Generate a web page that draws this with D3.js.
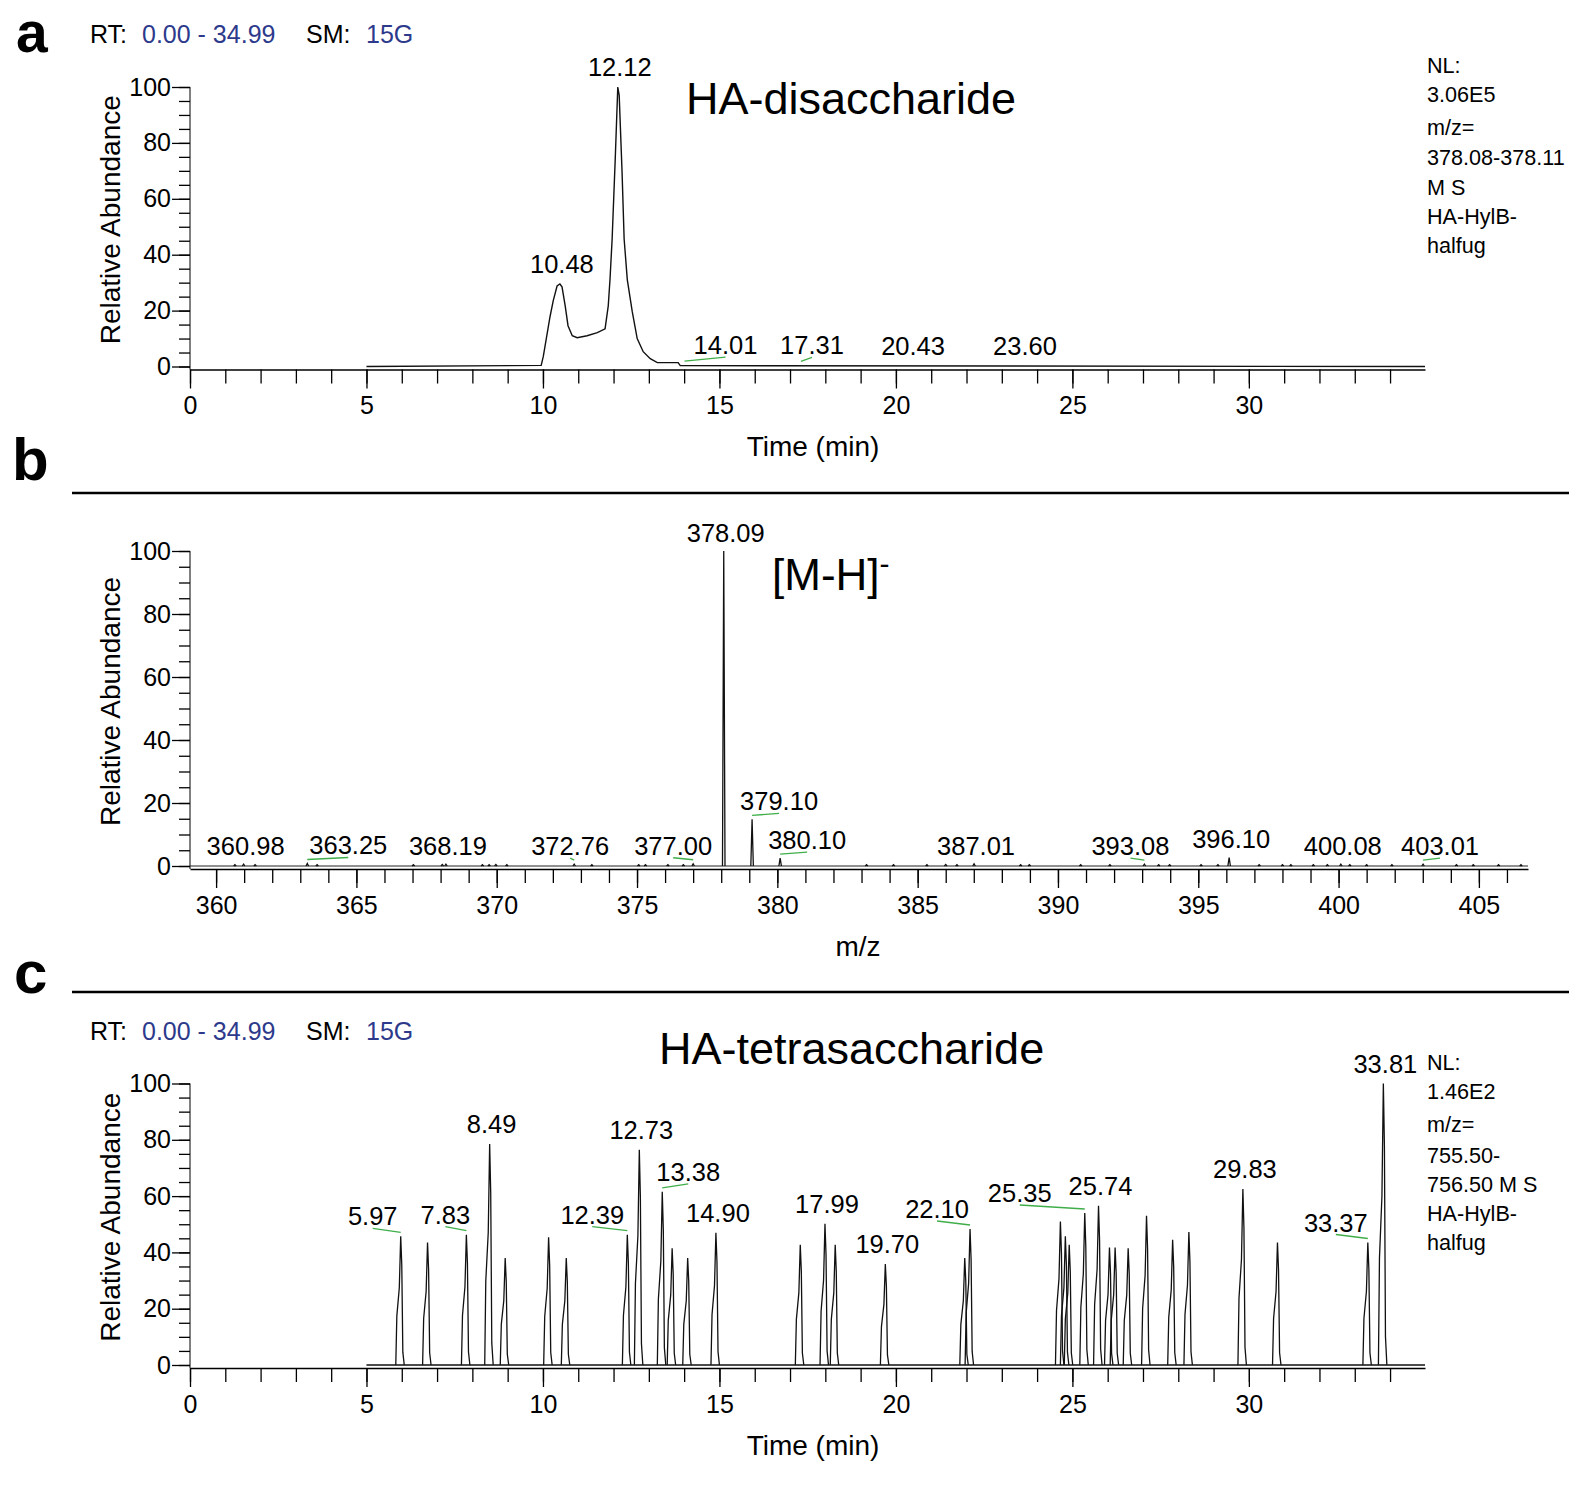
<!DOCTYPE html>
<html>
<head>
<meta charset="utf-8">
<script src="https://cdn.jsdelivr.net/npm/d3@7"></script>
<style>
  body { margin: 0; background: #fff; }
  svg { display: block; }
</style>
</head>
<body>
<svg id="fig" width="1569" height="1487"></svg>
<script>
// values

// a: XIC m/z 378.08-378.11, time (min) / relative abundance (%)
var xicTime  = [5, 9.95, 10.01, 10.20, 10.29, 10.40, 10.48, 10.54, 10.63, 10.71, 10.83, 10.97, 11.25, 11.54, 11.76, 11.85, 11.90, 11.96, 12.05, 12.12, 12.16, 12.24, 12.30, 12.39, 12.53, 12.67, 12.84, 13.04, 13.24, 13.83, 13.89, 34.99];
var xicAbund = [0, 0.4, 3.6, 17.8, 23.5, 28.8, 29.5, 28.5, 21.7, 14.6, 11.0, 10.3, 11.0, 12.1, 13.5, 21.7, 31.3, 45.6, 75, 100, 97, 70, 45.6, 31, 19.6, 10, 5.3, 2.8, 1.4, 1.4, 0.3, 0];
var xicPeakRT    = [10.48, 12.12, 14.01, 17.31, 20.43, 23.60];
var xicPeakAbund = [29.5, 100, 0.5, 0.4, 0.3, 0.3];

// b: mass spectrum, labelled peaks
var msMz    = [360.98, 363.25, 368.19, 372.76, 377.00, 378.09, 379.10, 380.10, 387.01, 393.08, 396.10, 400.08, 403.01];
var msAbund = [0.6, 0.8, 0.6, 0.6, 0.7, 100, 14.8, 2.5, 0.7, 0.6, 2.7, 0.6, 0.6];
// small unlabelled peaks along the baseline
var msNoiseMz    = [360.67, 361.39, 363.6, 367.03, 368.06, 369.49, 369.73, 369.97, 370.36, 373.39, 375.06, 375.30, 376.1, 376.65, 383.18, 384.14, 385.33, 386.0, 386.4, 388.67, 388.98, 390.81, 391.85, 393.59, 393.98, 395.1, 395.7, 397.17, 398.0, 398.3, 399.1, 399.6, 400.4, 401.0, 401.9, 404.2, 404.8, 405.7, 406.5];
var msNoiseAbund = [0.4, 0.4, 0.4, 0.4, 0.5, 0.4, 0.4, 0.5, 0.4, 0.4, 0.4, 0.4, 0.4, 0.4, 0.4, 0.4, 0.4, 0.5, 0.4, 0.4, 0.4, 0.4, 0.4, 0.4, 0.4, 0.4, 0.4, 0.4, 0.4, 0.4, 0.4, 0.4, 0.4, 0.4, 0.4, 0.4, 0.4, 0.4, 0.4];

// c: XIC m/z 755.50-756.50, peak apexes
var tetraRT    = [5.97, 6.73, 7.83, 8.49, 8.93, 10.16, 10.66, 12.39, 12.73, 13.38, 13.66, 14.10, 14.90, 17.29, 17.99, 18.28, 19.70, 21.95, 22.10, 24.66, 24.80, 24.91, 25.35, 25.74, 26.05, 26.21, 26.58, 27.10, 27.84, 28.30, 29.83, 30.81, 33.37, 33.81];
var tetraAbund = [45.7, 43.5, 46.3, 78.5, 38, 45.4, 38, 46.3, 76.5, 61.5, 41.5, 38, 47, 42.7, 50.2, 42.7, 35.9, 38, 48.3, 51, 45.7, 42.7, 54, 56.6, 41.7, 41.7, 41.5, 53, 44.5, 47.2, 62.5, 43.5, 43.5, 100];
var tetraLabelled = [5.97, 7.83, 8.49, 12.39, 12.73, 13.38, 14.90, 17.99, 19.70, 22.10, 25.35, 25.74, 29.83, 33.37, 33.81];

var timeMajor = [0, 5, 10, 15, 20, 25, 30];
var mzMajor   = [360, 365, 370, 375, 380, 385, 390, 395, 400, 405];
var abundMajor = [0, 20, 40, 60, 80, 100];

// ---- layout / drawing ----
var svg = d3.select("#fig");
var font = "'Liberation Sans', Arial, Helvetica, sans-serif";
var blue = "#2d3a8c", green = "#3fae49";

svg.append("rect").attr("width", 1569).attr("height", 1487).attr("fill", "#fff");
var root = svg.append("g").attr("font-family", font).attr("fill", "#000");

// label nudges in px (Xcalibur moves labels sideways and draws a green leader)
var shiftA = {"14.01": 39, "17.31": 9};
var shiftB = {"363.25": 39, "372.76": -6, "377.00": -22, "379.10": 25, "380.10": 25, "393.08": -16, "403.01": 15};
var shiftC = {"5.97": -30, "7.83": -23, "12.39": -37, "13.38": 24, "22.10": -35, "25.35": -67, "33.37": -34};

function range(a, b, s) { return d3.range(a, b + 1e-9, s); }

function drawAxes(g, x, y, opt) {
  // x axis
  g.append("g").attr("transform", "translate(0," + opt.axisY + ")")
    .call(d3.axisBottom(x).tickValues(opt.xMinor).tickSize(14).tickFormat("").tickSizeOuter(0))
    .call(function (a) { a.select(".domain").remove(); });
  var xa = g.append("g").attr("transform", "translate(0," + opt.axisY + ")")
    .call(d3.axisBottom(x).tickValues(opt.xMajor).tickSize(19).tickPadding(8).tickSizeOuter(0));
  xa.selectAll("text").attr("font-size", 25).attr("font-family", font);
  // y axis
  g.append("g").attr("transform", "translate(" + x.range()[0] + ",0)")
    .call(d3.axisLeft(y).tickValues(range(0, 100, 5)).tickSize(11).tickFormat(""))
    .call(function (a) { a.select(".domain").remove(); });
  var ya = g.append("g").attr("transform", "translate(" + x.range()[0] + ",0)")
    .call(d3.axisLeft(y).tickValues(abundMajor).tickSize(18).tickPadding(1))
    .call(function (a) { a.select(".domain").remove(); });
  ya.selectAll("text").attr("font-size", 25).attr("font-family", font);
  g.append("line").attr("x1", x.range()[0]).attr("x2", x.range()[0])
    .attr("y1", y(100)).attr("y2", opt.axisY).attr("stroke", "#000");
  g.selectAll(".tick line, .domain").attr("stroke", "#000").attr("stroke-width", 1.3);

  g.append("text").attr("x", opt.titleX).attr("y", opt.axisY + 77).attr("dy", "0.35em")
    .attr("text-anchor", "middle").attr("font-size", 28).text(opt.xTitle);
  g.append("text").attr("transform", "translate(110," + (y(50) - 7) + ") rotate(-90)")
    .attr("dy", "0.35em").attr("text-anchor", "middle").attr("font-size", 28).text("Relative Abundance");
}

function peakLabels(g, x, y, vals, abunds, shift, lift) {
  vals.forEach(function (v, i) {
    var key = v.toFixed(2);
    var px = x(v), py = y(abunds[i]);
    var dx = shift[key] || 0;
    var lx = px + dx + 2, ly = py - lift;
    if (Math.abs(dx) > 5) {
      g.append("line").attr("x1", px).attr("y1", py - 4).attr("x2", lx).attr("y2", ly + 3)
        .attr("stroke", green).attr("stroke-width", 1.4);
    }
    g.append("text").attr("x", lx).attr("y", ly).attr("text-anchor", "middle")
      .attr("font-size", 25.5).text(key);
  });
}

function header(g, y) {
  var t = g.append("text").attr("y", y).attr("dy", "0.35em").attr("font-size", 25);
  t.append("tspan").attr("x", 90).text("RT:");
  t.append("tspan").attr("x", 142).attr("fill", blue).text("0.00 - 34.99");
  t.append("tspan").attr("x", 306).text("SM:");
  t.append("tspan").attr("x", 366).attr("fill", blue).text("15G");
}

function infoBlock(g, lines, ys) {
  lines.forEach(function (s, i) {
    g.append("text").attr("x", 1427).attr("y", ys[i]).attr("dy", "0.35em")
      .attr("font-size", 21.6).text(s);
  });
}

var line = d3.line().x(function (d) { return d[0]; }).y(function (d) { return d[1]; });

// ======== panel a ========
var ga = root.append("g");
var xA = d3.scaleLinear().domain([0, 34.99]).range([190, 1425]);
var yA = d3.scaleLinear().domain([0, 100]).range([366.5, 87]);
drawAxes(ga, xA, yA, {axisY: 369.5, xMajor: timeMajor, xMinor: range(0, 34, 1), xTitle: "Time (min)", titleX: 813});
ga.append("path")
  .attr("d", line(xicTime.map(function (t, i) { return [xA(t), yA(xicAbund[i])]; })))
  .attr("fill", "none").attr("stroke", "#111").attr("stroke-width", 1.4);
peakLabels(ga, xA, yA, xicPeakRT, xicPeakAbund, shiftA, 11);
ga.append("text").attr("x", 16).attr("y", 52).attr("font-size", 57).attr("font-weight", "bold").text("a");
header(ga, 34);
ga.append("text").attr("x", 686).attr("y", 98).attr("dy", "0.35em").attr("font-size", 45).text("HA-disaccharide");
infoBlock(ga, ["NL:", "3.06E5", "m/z=", "378.08-378.11", " M S", "HA-HylB-", "halfug"], [65, 94, 127, 157, 187, 216, 245]);

// separators
root.append("line").attr("x1", 72).attr("x2", 1569).attr("y1", 493).attr("y2", 493).attr("stroke", "#000").attr("stroke-width", 2.5);
root.append("line").attr("x1", 72).attr("x2", 1569).attr("y1", 992).attr("y2", 992).attr("stroke", "#000").attr("stroke-width", 2.5);

// ======== panel b ========
var gb = root.append("g");
var xB = d3.scaleLinear().domain([359.07, 406.75]).range([190, 1528]);
var yB = d3.scaleLinear().domain([0, 100]).range([866, 551]);
drawAxes(gb, xB, yB, {axisY: 869, xMajor: mzMajor, xMinor: range(360, 406, 1), xTitle: "m/z", titleX: 858});
gb.append("line").attr("x1", xB.range()[0]).attr("x2", xB.range()[1]).attr("y1", yB(0)).attr("y2", yB(0))
  .attr("stroke", "#222").attr("stroke-width", 1.2);
var stickHalf = 0.045;
msNoiseMz.concat(msMz).forEach(function (m, i) {
  var h = i < msNoiseMz.length ? msNoiseAbund[i] : msAbund[i - msNoiseMz.length];
  gb.append("path")
    .attr("d", line([[xB(m - stickHalf), yB(0)], [xB(m), yB(h)], [xB(m + stickHalf), yB(0)]]))
    .attr("fill", "none").attr("stroke", "#111").attr("stroke-width", 1.3);
});
peakLabels(gb, xB, yB, msMz, msAbund, shiftB, 9);
gb.append("text").attr("x", 12).attr("y", 480).attr("font-size", 60).attr("font-weight", "bold").text("b");
var mh = gb.append("text").attr("x", 772).attr("y", 575).attr("dy", "0.35em").attr("font-size", 44);
mh.append("tspan").text("[M-H]");
mh.append("tspan").attr("dy", "-0.55em").attr("font-size", 30).text("-");

// ======== panel c ========
var gc = root.append("g");
var xC = d3.scaleLinear().domain([0, 34.99]).range([190, 1425]);
var yC = d3.scaleLinear().domain([0, 100]).range([1365, 1083.5]);
drawAxes(gc, xC, yC, {axisY: 1368, xMajor: timeMajor, xMinor: range(0, 34, 1), xTitle: "Time (min)", titleX: 813});
gc.append("line").attr("x1", xC(5)).attr("x2", xC(34.99)).attr("y1", yC(0)).attr("y2", yC(0))
  .attr("stroke", "#111").attr("stroke-width", 1.4);
// drawing profile of one chromatographic peak (min offset, fraction of apex)
var peakProfile = [[-0.14, 0], [-0.11, 0.38], [-0.04, 0.6], [0, 1], [0.03, 0.78], [0.06, 0.1], [0.1, 0]];
tetraRT.forEach(function (t, i) {
  gc.append("path")
    .attr("d", line(peakProfile.map(function (p) { return [xC(t + p[0]), yC(tetraAbund[i] * p[1])]; })))
    .attr("fill", "none").attr("stroke", "#111").attr("stroke-width", 1.3);
});
peakLabels(gc, xC, yC, tetraLabelled, tetraLabelled.map(function (t) { return tetraAbund[tetraRT.indexOf(t)]; }), shiftC, 11);
gc.append("text").attr("x", 14).attr("y", 993).attr("font-size", 60).attr("font-weight", "bold").text("c");
header(gc, 1031);
gc.append("text").attr("x", 659).attr("y", 1048).attr("dy", "0.35em").attr("font-size", 45).text("HA-tetrasaccharide");
infoBlock(gc, ["NL:", "1.46E2", "m/z=", "755.50-", "756.50  M S", "HA-HylB-", "halfug"], [1062, 1091, 1124, 1155, 1184, 1213, 1242]);
</script>
</body>
</html>
